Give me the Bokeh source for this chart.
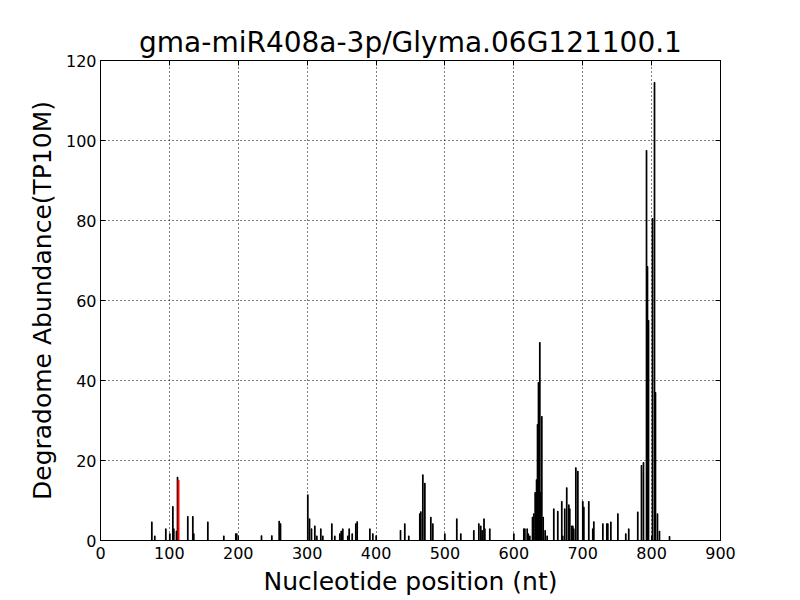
from bokeh.plotting import figure
from bokeh.models import LinearAxis, FixedTicker, Range1d
from bokeh.embed import file_html
from bokeh.resources import INLINE

title = "gma-miR408a-3p/Glyma.06G121100.1"
x_label = "Nucleotide position (nt)"
y_label = "Degradome Abundance(TP10M)"

positions = [
    74.5, 78.8, 94.8, 100.6, 105, 106.4, 110.3, 111.8, 126.7, 134, 135.4, 155.8,
    179, 196.4, 197.8, 233.7, 248.7, 259.4, 261.3,
    300.9, 303.4, 306.3, 311.1, 314, 319.8, 322.7, 335.8, 340.1, 347.4, 349.4,
    351.7, 359, 361, 365.4, 370.6, 372.6, 391, 395.3, 400.2,
    435.5, 441.7, 447.5, 463.5, 465, 467.9, 470.8, 479.5, 482.4, 499.8,
    517.2, 523, 541.9, 549.2, 552, 554, 556.7, 557.9, 565.1,
    600, 614.5, 616, 619.4, 620.9, 623.2, 627.1, 629, 631, 633, 634.4, 635.8,
    637.7, 639.2, 640.6, 642.6, 645.5, 648.4, 658, 663.8, 669.6, 671, 673.9,
    676.8, 679.8, 681.2, 684.1, 685.6, 687, 690, 692.9, 700.1, 701.6, 708.8,
    714.6, 716.1, 729.2, 735, 736.4, 740.8, 751, 762.5, 766.8, 779.9,
    785.3, 788.2, 792.6, 794, 795.5, 801.3, 804.2, 805.6, 808.5, 811.4, 826,
]
abundance = [
    4.6, 1.1, 2.9, 1.7, 8.5, 2.9, 2.3, 15.8, 6.0, 6.0, 1.7, 4.6,
    1.1, 1.7, 1.7, 1.2, 1.2, 4.8, 4.2,
    11.4, 5.4, 2.9, 3.6, 1.1, 2.9, 1.1, 4.2, 1.1, 1.7, 2.3,
    2.9, 1.1, 2.9, 1.7, 4.2, 4.7, 2.9, 1.7, 1.2,
    2.5, 4.2, 1.1, 6.7, 7.2, 16.4, 14.3, 5.8, 4.2, 1.7,
    5.4, 1.7, 2.5, 4.2, 3.6, 2.5, 5.4, 2.9, 2.9,
    1.7, 2.9, 2.9, 2.9, 1.7, 1.1, 5.8, 6.7, 12.0, 15.2, 29.0, 39.5,
    49.5, 12.0, 31.0, 5.8, 2.5, 1.1, 7.9, 7.3, 9.75, 1.1, 7.9,
    13.2, 8.9, 7.9, 3.6, 3.6, 2.9, 18.2, 17.3, 9.75, 8.3, 9.75,
    2.9, 4.7, 4.2, 4.2, 4.2, 4.6, 6.7, 1.7, 2.9, 7.1,
    18.75, 19.5, 97.5, 68.5, 55.0, 80.5, 114.5, 37.0, 6.7, 2.3, 1.0,
]
site_positions = [113.2]
site_abundance = [15.0]

x_ticks = [0, 100, 200, 300, 400, 500, 600, 700, 800, 900]
y_ticks = [0, 20, 40, 60, 80, 100, 120]

FONT = "DejaVu Sans"

p = figure(
    frame_width=620, frame_height=480,
    min_border_left=100, min_border_right=72, min_border_top=60, min_border_bottom=52,
    x_range=Range1d(0, 900), y_range=Range1d(0, 120),
    output_backend="svg", toolbar_location=None,
    title=title,
)
p.background_fill_color = "white"
p.border_fill_color = "white"
p.outline_line_color = "black"
p.outline_line_width = 1

p.title.align = "center"
p.title.text_font = FONT
p.title.text_font_style = "normal"
p.title.text_font_size = "28px"
p.title.text_color = "black"
p.title.standoff = 4

p.vbar(x=positions, top=abundance, width=0.9, fill_color="black", line_color="black", line_width=1.1)
p.vbar(x=site_positions, top=site_abundance, width=0.9, fill_color="red", line_color="red", line_width=1.4)

for ax in (p.xaxis[0], p.yaxis[0]):
    ax.major_tick_in = 5
    ax.major_tick_out = 0
    ax.minor_tick_line_color = None
    ax.axis_line_color = "black"
    ax.major_tick_line_color = "black"
    ax.major_label_text_font = FONT
    ax.major_label_text_font_size = "16px"
    ax.major_label_text_color = "black"
    ax.axis_label_text_font = FONT
    ax.axis_label_text_font_style = "normal"
    ax.axis_label_text_font_size = "25px"
    ax.axis_label_text_color = "black"

p.xaxis[0].ticker = FixedTicker(ticks=x_ticks)
p.yaxis[0].ticker = FixedTicker(ticks=y_ticks)
p.xaxis[0].axis_label = x_label
p.yaxis[0].axis_label = y_label
p.xaxis[0].major_label_standoff = 6
p.yaxis[0].major_label_standoff = 4
p.xaxis[0].axis_label_standoff = 5
p.yaxis[0].axis_label_standoff = 6

top_ax = LinearAxis(ticker=FixedTicker(ticks=x_ticks), major_label_text_color=None,
                    major_tick_in=5, major_tick_out=0, minor_tick_line_color=None,
                    axis_line_color="black")
right_ax = LinearAxis(ticker=FixedTicker(ticks=y_ticks), major_label_text_color=None,
                      major_tick_in=5, major_tick_out=0, minor_tick_line_color=None,
                      axis_line_color="black")
p.add_layout(top_ax, "above")
p.add_layout(right_ax, "right")

p.xgrid[0].ticker = FixedTicker(ticks=x_ticks)
p.ygrid[0].ticker = FixedTicker(ticks=y_ticks)
for g in (p.xgrid[0], p.ygrid[0]):
    g.grid_line_color = "black"
    g.grid_line_dash = "1 3"
    g.grid_line_width = 1

open("out.html", "w").write(file_html(p, INLINE))
